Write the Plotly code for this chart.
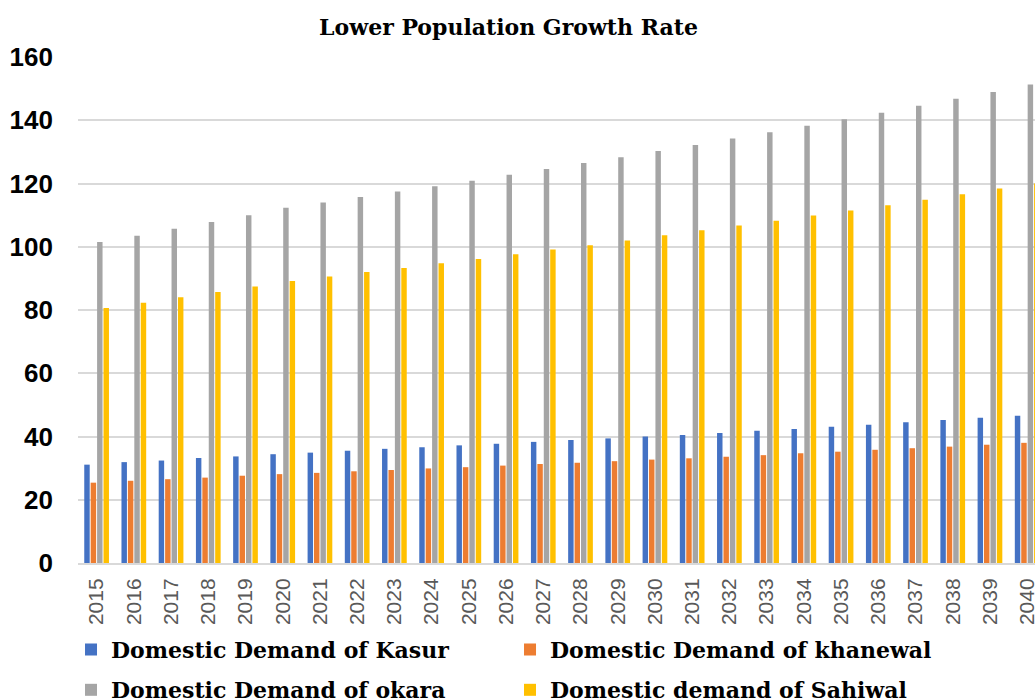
import plotly.graph_objects as go

years = [str(y) for y in range(2015, 2041)]

kasur = [31.1, 31.9, 32.4, 33.2, 33.7, 34.4, 34.9, 35.5, 36.1, 36.6,
         37.2, 37.7, 38.3, 38.9, 39.4, 40.0, 40.5, 41.1, 41.8, 42.4,
         43.1, 43.7, 44.5, 45.2, 45.9, 46.6]
khanewal = [25.4, 26.0, 26.5, 27.0, 27.6, 28.1, 28.5, 29.0, 29.4, 29.9,
            30.3, 30.8, 31.3, 31.7, 32.2, 32.7, 33.1, 33.6, 34.1, 34.7,
            35.2, 35.8, 36.3, 36.8, 37.4, 38.0]
okara = [101.5, 103.5, 105.7, 107.8, 110.0, 112.3, 114.0, 115.7, 117.5, 119.1,
         120.9, 122.8, 124.6, 126.5, 128.3, 130.3, 132.2, 134.2, 136.2, 138.3,
         140.3, 142.4, 144.6, 146.8, 148.9, 151.3]
sahiwal = [80.6, 82.3, 84.0, 85.7, 87.4, 89.2, 90.6, 92.0, 93.3, 94.8,
           96.1, 97.6, 99.1, 100.5, 102.0, 103.6, 105.2, 106.7, 108.2, 109.9,
           111.5, 113.1, 114.9, 116.6, 118.4, 120.0]

series = [
    ("Domestic Demand of Kasur", kasur, "#4472C4", "legend"),
    ("Domestic Demand of khanewal", khanewal, "#ED7D31", "legend"),
    ("Domestic Demand of okara", okara, "#A5A5A5", "legend2"),
    ("Domestic demand of Sahiwal", sahiwal, "#FFC000", "legend2"),
]

fig = go.Figure()
for name, vals, col, lg in series:
    fig.add_trace(go.Bar(x=years, y=vals, name=name, marker_color=col,
                         marker_line_width=0, legend=lg))

legend_font = dict(family="DejaVu Serif", size=22, color="black", weight="bold")

fig.update_layout(
    width=1035, height=700,
    margin=dict(l=78, r=0, t=57, b=137, autoexpand=False),
    paper_bgcolor="white", plot_bgcolor="white",
    barmode="group", bargap=0.31, bargroupgap=0.15,
    title=dict(text="Lower Population Growth Rate", x=0.4913, xanchor="center",
               y=0.9614, yanchor="middle",
               font=dict(family="DejaVu Serif", size=22, color="black", weight="bold")),
    xaxis=dict(range=[-0.5, 25.21], tickangle=-90, showgrid=False,
               showline=True, linecolor="#D9D9D9", linewidth=2,
               tickfont=dict(family="Liberation Sans", size=21, color="#595959"),
               ticklabelstandoff=5, ticklabeloverflow="allow"),
    yaxis=dict(range=[0, 160], tickvals=list(range(0, 161, 20)),
               showgrid=True, gridcolor="#D9D9D9", gridwidth=2,
               zeroline=False, showline=False,
               tickfont=dict(family="Liberation Sans", size=26, color="black", weight="bold"),
               ticklabelstandoff=24),
    legend=dict(orientation="h", x=-0.0073, xanchor="left", y=-0.130, yanchor="top",
                entrywidth=394, font=legend_font, bgcolor="rgba(0,0,0,0)"),
    legend2=dict(orientation="h", x=-0.0073, xanchor="left", y=-0.2095, yanchor="top",
                 entrywidth=394, font=legend_font, bgcolor="rgba(0,0,0,0)"),
)

# drop the page margin so the 1035x700 figure fills the window, cut at the edge
fig.write_html("out.html", config={"displayModeBar": False},
               post_script="document.body.style.margin='0px';"
                           "document.body.style.overflow='hidden';")
